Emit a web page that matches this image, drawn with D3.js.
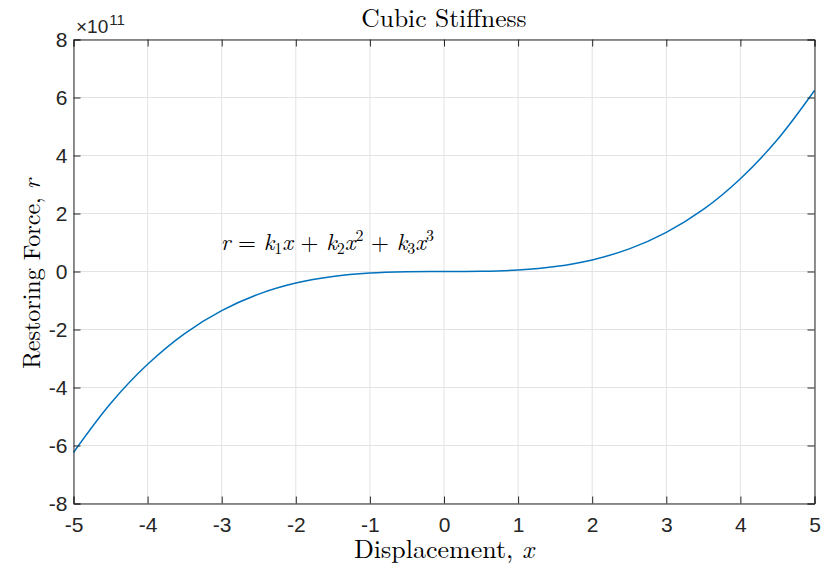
<!DOCTYPE html>
<html><head><meta charset="utf-8">
<script src="https://cdn.jsdelivr.net/npm/d3@7"></script>
<style>body{margin:0;background:#fff}svg{display:block}
.tk{font-family:'Liberation Sans',Arial,sans-serif;font-size:21px;fill:#262626}</style>
</head><body>
<svg id="c" width="823" height="565"></svg>
<script>
// Data (force in units of 1e11)
const xs = [-5,-4.5,-4,-3.5,-3,-2.5,-2,-1.5,-1,-0.5,0,0.5,1,1.5,2,2.5,3,3.5,4,4.5,5];
const rs = [-6.24,-4.55,-3.2,-2.14,-1.35,-0.78,-0.4,-0.17,-0.05,-0.006,0,0.006,0.05,0.17,0.4,0.78,1.35,2.14,3.2,4.55,6.24];
const xTicks = [-5,-4,-3,-2,-1,0,1,2,3,4,5];
const yTicks = [-8,-6,-4,-2,0,2,4,6,8];

const svg = d3.select("#c");
const L=73.5,R=814.5,T=39.5,B=503.5;
const x = d3.scaleLinear().domain([-5,5]).range([L,R]);
const y = d3.scaleLinear().domain([-8,8]).range([B,T]);
const axCol="#262626", grid="#e3e3e3";
const serif="'Latin Modern Roman','CMU Serif','Liberation Serif',serif";
const fmt = d => String(d);

// grid
svg.append("g").selectAll("line").data(xTicks).join("line")
  .attr("x1",d=>x(d)).attr("x2",d=>x(d)).attr("y1",T).attr("y2",B).attr("stroke",grid);
svg.append("g").selectAll("line").data(yTicks).join("line")
  .attr("y1",d=>y(d)).attr("y2",d=>y(d)).attr("x1",L).attr("x2",R).attr("stroke",grid);

// curve
const pts = xs.map((v,i)=>[v,rs[i]]);
svg.append("path").datum(pts)
  .attr("d", d3.line().x(d=>x(d[0])).y(d=>y(d[1])).curve(d3.curveCatmullRom.alpha(0.5)))
  .attr("fill","none").attr("stroke","#0072BD").attr("stroke-width",1.5);

// axes
const gx = svg.append("g").attr("transform",`translate(0,${B})`)
  .call(d3.axisBottom(x).tickValues(xTicks).tickSize(-7).tickPadding(14).tickFormat(fmt));
const gxt = svg.append("g").attr("transform",`translate(0,${T})`)
  .call(d3.axisTop(x).tickValues(xTicks).tickSize(-7).tickFormat(""));
const gy = svg.append("g").attr("transform",`translate(${L},0)`)
  .call(d3.axisLeft(y).tickValues(yTicks).tickSize(-7).tickPadding(6).tickFormat(fmt));
const gyr = svg.append("g").attr("transform",`translate(${R},0)`)
  .call(d3.axisRight(y).tickValues(yTicks).tickSize(-7).tickFormat(""));
[gx,gxt,gy,gyr].forEach(g=>{
  g.attr("font-size",null).attr("font-family",null);
  g.selectAll("path").attr("stroke",axCol).attr("stroke-width",1);
  g.selectAll("line").attr("stroke",axCol);
  g.selectAll("text").attr("class","tk").attr("fill",null);
});
gx.selectAll(".tick text").attr("dy","0.71em");

// exponent label
const ex = svg.append("text").attr("class","tk").attr("x",76).attr("y",33).style("font-size","19px");
ex.append("tspan").text("\u00d710");
ex.append("tspan").attr("dx",1).attr("dy",-8).style("font-size","15px").text("11");

// title
svg.append("text").attr("x",(L+R)/2).attr("y",27).attr("text-anchor","middle")
  .style("font-family",serif).style("font-size","25.5px").attr("fill","#000").text("Cubic Stiffness");

// x label
const xl = svg.append("text").attr("x",(L+R)/2).attr("y",558).attr("text-anchor","middle")
  .style("font-family",serif).style("font-size","26px");
xl.append("tspan").text("Displacement, ");
xl.append("tspan").style("font-style","italic").text("x");

// y label
const yl = svg.append("text").attr("transform",`translate(40,274) rotate(-90)`).attr("text-anchor","middle")
  .style("font-family",serif).style("font-size","24px");
yl.append("tspan").text("Restoring Force, ");
yl.append("tspan").style("font-style","italic").text("r");

// annotation
const an = svg.append("text").attr("x",x(-3)-1).attr("y",250)
  .style("font-family",serif).style("font-size","23px");
const it = s=>an.append("tspan").style("font-style","italic").text(s);
const rm = s=>an.append("tspan").text(s);
const sub = s=>an.append("tspan").attr("dy",4).style("font-size","16px").text(s);
const sup = s=>an.append("tspan").attr("dy",-9).style("font-size","16px").text(s);
it("r"); rm(" = "); it("k"); sub("1"); an.append("tspan").attr("dy",-4).style("font-style","italic").text("x");
rm(" + "); it("k"); sub("2"); an.append("tspan").attr("dy",-4).style("font-style","italic").text("x"); sup("2");
an.append("tspan").attr("dy",9).text(" + "); it("k"); sub("3"); an.append("tspan").attr("dy",-4).style("font-style","italic").text("x"); sup("3");
</script>
</body></html>
